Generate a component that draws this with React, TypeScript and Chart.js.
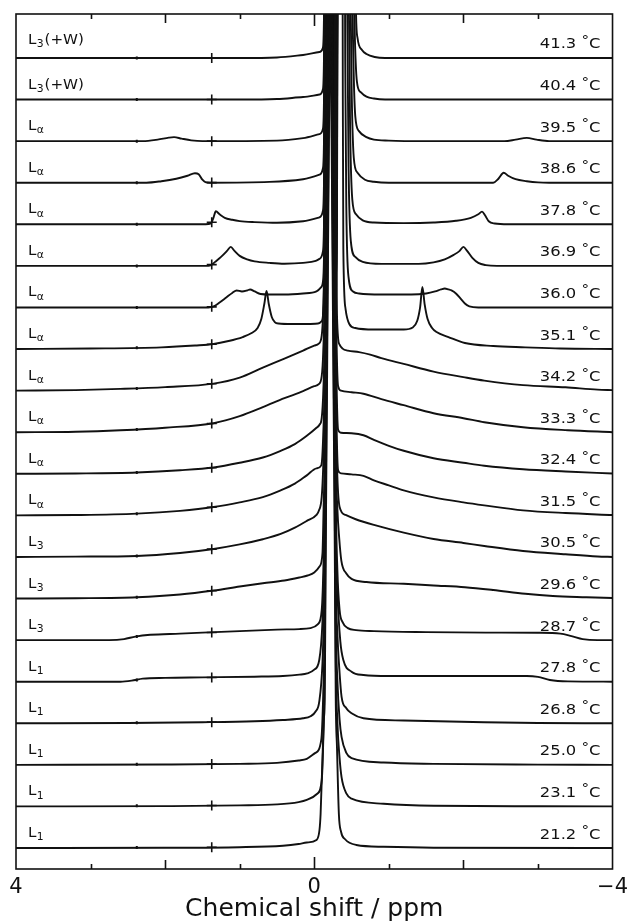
import React, { useEffect, useRef } from 'react';
import { Chart, registerables } from 'chart.js';

Chart.register(...registerables);

// ---------- data (ppm, intensity above the row baseline) ----------
const temperatures = ['41.3', '40.4', '39.5', '38.6', '37.8', '36.9', '36.0', '35.1', '34.2', '33.3', '32.4', '31.5', '30.5', '29.6', '28.7', '27.8', '26.8', '25.0', '23.1', '21.2'];
const phaseSub = ['3', '3', 'α', 'α', 'α', 'α', 'α', 'α', 'α', 'α', 'α', 'α', '3', '3', '3', '1', '1', '1', '1', '1'];
const phaseSuffix = ['(+W)', '(+W)', '', '', '', '', '', '', '', '', '', '', '', '', '', '', '', '', '', ''];

const tickValues = [4, 0, -4];
const tickLabels = ['4', '0', '−4'];

const spikePpm = 1.375;
const dotPpm = 2.38;
const spikeLevels = [0, 0, 0, 0.1, 2, 1.3, 0.6, 4.8, 6.8, 8.7, 6.1, 8.1, 7.8, 7.8, 7.6, 4.2, 1.1, 0.9, 0.9, 0.7];
const dotLevels = [0, 0, 0, 0, 0, 0, 0, 1.2, 2.1, 2.6, 1.3, 1.7, 1, 1.3, 3.5, 1.6, 0.5, 0.6, 0.6, 0.4];

const s413 = [[4, 0], [2, 0], [1, 0], [0.5, 0.5], [0.15, 3], [-0.07, 6], [-0.115, 10], [-0.13, 40], [-0.141, 150], [-0.154, 300], [-0.17, 450], [-0.185, 600], [-0.201, 750], [-0.214, 850], [-0.228, 750], [-0.244, 600], [-0.26, 450], [-0.28, 300], [-0.3, 250], [-0.32, 300], [-0.34, 600], [-0.36, 800], [-0.4, 850], [-0.45, 850], [-0.5, 600], [-0.53, 250], [-0.56, 45], [-0.58, 20], [-0.64, 8], [-0.7, 4], [-0.81, 1], [-0.95, 0], [-2, 0], [-4, 0]];
const s404 = [[4, 0], [2, 0], [1, 0], [0.5, 0.5], [0.15, 2.5], [-0.07, 5], [-0.115, 10], [-0.13, 40], [-0.141, 150], [-0.154, 300], [-0.17, 450], [-0.185, 600], [-0.201, 750], [-0.214, 850], [-0.228, 750], [-0.244, 600], [-0.26, 450], [-0.28, 300], [-0.3, 250], [-0.32, 300], [-0.34, 600], [-0.36, 800], [-0.4, 850], [-0.44, 850], [-0.49, 600], [-0.515, 250], [-0.54, 80], [-0.56, 30], [-0.58, 14], [-0.63, 7], [-0.7, 3], [-0.8, 1], [-0.95, 0], [-4, 0]];
const s395 = [[4, 0], [2.3, 0], [2.1, 1.5], [1.95, 3.5], [1.88, 4], [1.78, 2.5], [1.65, 0.8], [1.5, 0], [0.5, 0.5], [0.15, 3], [-0.07, 7], [-0.115, 12], [-0.13, 40], [-0.141, 150], [-0.154, 300], [-0.17, 450], [-0.185, 600], [-0.201, 750], [-0.214, 850], [-0.228, 750], [-0.244, 600], [-0.259, 450], [-0.27, 300], [-0.276, 100], [-0.29, 30], [-0.304, 100], [-0.31, 300], [-0.325, 450], [-0.34, 600], [-0.355, 750], [-0.37, 850], [-0.43, 850], [-0.47, 600], [-0.495, 250], [-0.52, 100], [-0.55, 25], [-0.6, 10], [-0.7, 4], [-0.8, 1.5], [-1, 0.5], [-1.5, 0], [-2.55, 0], [-2.7, 1.5], [-2.85, 3.3], [-2.98, 1.5], [-3.15, 0], [-4, 0]];
const s386 = [[4, 0], [2.25, 0], [2.05, 1.5], [1.85, 4], [1.7, 7], [1.6, 9.5], [1.55, 8.5], [1.5, 3], [1.46, 0.5], [1.4, 0], [0.6, 0.8], [0.15, 3.5], [-0.07, 8], [-0.115, 14], [-0.13, 40], [-0.141, 150], [-0.154, 300], [-0.17, 450], [-0.185, 600], [-0.201, 750], [-0.214, 850], [-0.228, 750], [-0.244, 600], [-0.259, 450], [-0.27, 300], [-0.276, 100], [-0.29, 30], [-0.304, 100], [-0.31, 300], [-0.325, 450], [-0.34, 600], [-0.355, 750], [-0.37, 850], [-0.42, 850], [-0.455, 600], [-0.478, 250], [-0.5, 100], [-0.53, 25], [-0.58, 10], [-0.68, 3], [-0.8, 1], [-1, 0], [-2.4, 0], [-2.47, 4], [-2.54, 10], [-2.6, 7], [-2.7, 3.5], [-2.85, 1.5], [-3.0, 0.3], [-3.15, 0], [-4, 0]];
const s378 = [[4, 0], [1.5, 0], [1.42, 0.3], [1.38, 1.5], [1.35, 7], [1.32, 13], [1.27, 10], [1.2, 6.5], [1.1, 4.5], [1.0, 3.2], [0.8, 2.2], [0.5, 1.5], [0.15, 3], [-0.07, 7], [-0.115, 13], [-0.13, 40], [-0.141, 150], [-0.154, 300], [-0.17, 450], [-0.185, 600], [-0.201, 750], [-0.214, 850], [-0.228, 750], [-0.244, 600], [-0.259, 450], [-0.27, 300], [-0.276, 100], [-0.29, 30], [-0.304, 100], [-0.31, 300], [-0.325, 450], [-0.34, 600], [-0.355, 750], [-0.37, 850], [-0.41, 850], [-0.44, 600], [-0.46, 250], [-0.48, 100], [-0.51, 25], [-0.56, 10], [-0.65, 4], [-0.8, 1.8], [-1.2, 1.2], [-1.6, 1.8], [-1.9, 3.5], [-2.1, 6.5], [-2.2, 10], [-2.25, 12.7], [-2.29, 9], [-2.34, 3], [-2.42, 0.8], [-2.6, 0], [-4, 0]];
const s369 = [[4, 0], [1.42, 0], [1.38, 1], [1.33, 4], [1.25, 9], [1.17, 15], [1.12, 19], [1.07, 15], [1.0, 10], [0.9, 6.5], [0.8, 4.5], [0.6, 3], [0.4, 2.2], [0.15, 3], [-0.02, 5], [-0.07, 7], [-0.115, 14], [-0.13, 40], [-0.141, 150], [-0.154, 300], [-0.17, 450], [-0.185, 600], [-0.201, 750], [-0.214, 850], [-0.228, 750], [-0.244, 600], [-0.259, 450], [-0.27, 300], [-0.276, 100], [-0.29, 30], [-0.304, 100], [-0.31, 300], [-0.325, 450], [-0.34, 600], [-0.355, 750], [-0.37, 850], [-0.4, 850], [-0.425, 600], [-0.443, 250], [-0.46, 100], [-0.49, 25], [-0.55, 9], [-0.65, 4], [-0.9, 2], [-1.4, 2], [-1.6, 3.5], [-1.75, 6.5], [-1.87, 11], [-1.95, 15], [-2.0, 19], [-2.05, 15], [-2.12, 8], [-2.2, 3], [-2.3, 0.8], [-2.45, 0], [-4, 0]];
const s360 = [[4, 0], [1.42, 0], [1.35, 1], [1.27, 5], [1.18, 10], [1.1, 14.5], [1.04, 17], [0.97, 16], [0.9, 17], [0.86, 18], [0.8, 16], [0.72, 13.5], [0.6, 13], [0.4, 13], [0.15, 14], [-0.03, 16], [-0.09, 20], [-0.12, 28], [-0.132, 60], [-0.141, 150], [-0.154, 300], [-0.17, 450], [-0.185, 600], [-0.201, 750], [-0.214, 850], [-0.228, 750], [-0.244, 600], [-0.259, 450], [-0.27, 300], [-0.276, 100], [-0.29, 35], [-0.304, 100], [-0.31, 300], [-0.325, 450], [-0.34, 600], [-0.355, 750], [-0.37, 850], [-0.385, 850], [-0.4, 600], [-0.415, 250], [-0.43, 100], [-0.46, 30], [-0.52, 16], [-0.6, 14], [-0.9, 13], [-1.3, 13], [-1.5, 14], [-1.62, 16], [-1.7, 18], [-1.75, 19], [-1.8, 18], [-1.84, 17], [-1.9, 14], [-1.96, 9], [-2.02, 4], [-2.08, 1], [-2.2, 0], [-4, 0]];
const s351 = [[4, 0], [3, 0.5], [2.05, 1.7], [1.6, 3.5], [1.35, 5], [1.15, 8], [0.96, 12], [0.84, 16], [0.76, 21], [0.71, 30], [0.67, 45], [0.64, 58], [0.61, 45], [0.57, 32], [0.53, 27], [0.48, 25.5], [0.3, 25], [0.1, 25], [-0.05, 25.5], [-0.1, 28], [-0.125, 45], [-0.141, 150], [-0.154, 300], [-0.17, 450], [-0.185, 600], [-0.201, 750], [-0.214, 850], [-0.228, 750], [-0.244, 600], [-0.259, 450], [-0.27, 300], [-0.276, 100], [-0.29, 35], [-0.304, 100], [-0.31, 300], [-0.325, 450], [-0.34, 600], [-0.355, 750], [-0.365, 800], [-0.375, 600], [-0.383, 250], [-0.39, 100], [-0.42, 40], [-0.47, 25], [-0.55, 21], [-0.8, 19.5], [-1.2, 19.5], [-1.32, 21.5], [-1.38, 28], [-1.42, 42], [-1.45, 62], [-1.48, 45], [-1.52, 30], [-1.58, 21], [-1.64, 17], [-1.8, 12], [-2.02, 6], [-2.4, 3], [-2.83, 1.7], [-3.3, 0.5], [-4, 0]];
const s342 = [[4, 0], [3.2, 0.5], [2.6, 1.7], [2.0, 3.5], [1.35, 7], [1.0, 13], [0.69, 23], [0.4, 32], [0.15, 40], [0.0, 45], [-0.06, 47], [-0.1, 55], [-0.12, 80], [-0.141, 150], [-0.154, 300], [-0.17, 450], [-0.185, 600], [-0.201, 750], [-0.214, 850], [-0.228, 750], [-0.244, 600], [-0.259, 450], [-0.275, 300], [-0.288, 150], [-0.305, 75], [-0.32, 52], [-0.34, 46], [-0.38, 42], [-0.45, 40], [-0.6, 38.5], [-0.75, 36], [-0.9, 32.5], [-1.2, 26.7], [-1.6, 19], [-2.0, 13.5], [-2.28, 10], [-2.8, 5.5], [-3.37, 3.3], [-3.8, 1], [-4, 0.5]];
const s333 = [[4, 0], [3.2, 0.5], [2.6, 2], [2.0, 4.5], [1.35, 9], [1.0, 16], [0.69, 25], [0.4, 34], [0.15, 41], [0.0, 46], [-0.06, 48], [-0.1, 56], [-0.12, 80], [-0.141, 150], [-0.154, 300], [-0.17, 450], [-0.185, 600], [-0.201, 750], [-0.214, 850], [-0.228, 750], [-0.244, 600], [-0.259, 450], [-0.275, 300], [-0.288, 150], [-0.305, 70], [-0.32, 46], [-0.36, 41.5], [-0.5, 40], [-0.66, 38.5], [-0.9, 33], [-1.2, 27], [-1.6, 19], [-2.0, 14], [-2.28, 10], [-2.8, 5], [-3.4, 2], [-4, 0]];
const s324 = [[4, 0], [3.2, 0.3], [2.38, 1.3], [1.8, 3.5], [1.35, 6.3], [1.0, 11], [0.69, 16.3], [0.45, 23], [0.26, 29.7], [0.1, 38], [-0.03, 46], [-0.07, 49], [-0.1, 56], [-0.12, 80], [-0.141, 150], [-0.154, 300], [-0.17, 450], [-0.185, 600], [-0.201, 750], [-0.214, 850], [-0.228, 750], [-0.244, 600], [-0.259, 450], [-0.275, 300], [-0.288, 150], [-0.305, 70], [-0.32, 44], [-0.36, 41], [-0.5, 40.5], [-0.66, 38.5], [-0.8, 34], [-1.0, 28], [-1.2, 23], [-1.6, 15.5], [-2.0, 11], [-2.28, 8], [-2.8, 4.5], [-3.37, 2.3], [-4, 0.3]];
const s315 = [[4, 0], [3.2, 0.3], [2.38, 1.7], [1.8, 4.5], [1.35, 8.3], [1.0, 13], [0.69, 18.3], [0.45, 25], [0.26, 31.7], [0.1, 40], [-0.03, 47], [-0.094, 50], [-0.12, 80], [-0.141, 150], [-0.154, 300], [-0.17, 450], [-0.185, 600], [-0.201, 750], [-0.214, 850], [-0.228, 750], [-0.244, 600], [-0.259, 450], [-0.275, 300], [-0.288, 150], [-0.305, 70], [-0.32, 45], [-0.36, 42], [-0.5, 41], [-0.66, 39.5], [-0.8, 35], [-1.0, 30], [-1.2, 25], [-1.6, 18], [-2.0, 13], [-2.28, 10], [-2.8, 5], [-3.37, 2.3], [-4, 0.3]];
const s305 = [[4, 0], [3.2, 0.3], [2.38, 1], [1.8, 4], [1.35, 8], [1.0, 12.5], [0.69, 17.7], [0.45, 23], [0.26, 29.3], [0.1, 36], [-0.03, 42], [-0.06, 46], [-0.1, 60], [-0.12, 90], [-0.141, 150], [-0.154, 300], [-0.17, 450], [-0.185, 600], [-0.201, 750], [-0.214, 850], [-0.228, 750], [-0.244, 600], [-0.259, 450], [-0.275, 300], [-0.288, 150], [-0.31, 80], [-0.34, 50], [-0.42, 42], [-0.556, 37.7], [-0.8, 32], [-1.2, 24.3], [-1.6, 18], [-2.0, 14], [-2.28, 11], [-2.8, 6], [-3.37, 2.7], [-3.8, 0.5], [-4, 0]];
const s296 = [[4, 0], [3.2, 0.3], [2.38, 1.3], [1.8, 4], [1.35, 8], [1.0, 12], [0.69, 15.3], [0.4, 18], [0.2, 21], [0.09, 23], [0.0, 26], [-0.07, 32], [-0.11, 45], [-0.125, 90], [-0.141, 150], [-0.154, 300], [-0.17, 450], [-0.185, 600], [-0.201, 750], [-0.214, 850], [-0.228, 750], [-0.244, 600], [-0.259, 450], [-0.275, 300], [-0.288, 150], [-0.31, 90], [-0.335, 60], [-0.363, 38], [-0.43, 25], [-0.5, 19.7], [-0.7, 16.5], [-1.2, 14.7], [-1.6, 13], [-2.02, 11.3], [-2.4, 8.5], [-2.83, 4.7], [-3.2, 2.5], [-3.65, 1.3], [-4, 0.5]];
const s287 = [[4, 0], [2.75, 0], [2.55, 1], [2.4, 3.5], [2.2, 5.3], [1.8, 6.5], [1.5, 7.5], [1.0, 9], [0.5, 10.5], [0.2, 11], [0.05, 12], [-0.05, 16], [-0.1, 30], [-0.125, 80], [-0.141, 150], [-0.154, 300], [-0.17, 450], [-0.185, 600], [-0.201, 750], [-0.214, 850], [-0.228, 750], [-0.244, 600], [-0.259, 450], [-0.275, 300], [-0.288, 150], [-0.31, 70], [-0.34, 30], [-0.38, 18], [-0.45, 12], [-0.56, 10], [-0.8, 9], [-1.5, 8], [-2.3, 7.5], [-3.0, 7.3], [-3.3, 6.5], [-3.45, 4], [-3.6, 1], [-3.8, 0], [-4, 0]];
const s278 = [[4, 0], [2.6, 0], [2.45, 1], [2.3, 3], [2.0, 3.8], [1.5, 4.3], [0.8, 5], [0.42, 5.7], [0.2, 7], [0.094, 8.3], [0.0, 12], [-0.067, 21.7], [-0.11, 60], [-0.13, 110], [-0.141, 150], [-0.154, 300], [-0.17, 450], [-0.185, 600], [-0.201, 750], [-0.214, 850], [-0.228, 750], [-0.244, 600], [-0.259, 450], [-0.275, 300], [-0.288, 150], [-0.31, 90], [-0.35, 40], [-0.39, 21.7], [-0.5, 10], [-0.66, 6.7], [-1.0, 5.7], [-2.0, 5.7], [-2.85, 5.7], [-3.0, 4.8], [-3.16, 1.7], [-3.4, 0.3], [-4, 0]];
const s268 = [[4, 0], [2.5, 0.3], [1.5, 1], [0.8, 2], [0.42, 3.3], [0.15, 5], [0.05, 7], [-0.02, 12], [-0.067, 21.7], [-0.11, 60], [-0.13, 110], [-0.141, 150], [-0.154, 300], [-0.17, 450], [-0.185, 600], [-0.201, 750], [-0.214, 850], [-0.228, 750], [-0.244, 600], [-0.259, 450], [-0.275, 300], [-0.288, 150], [-0.31, 90], [-0.34, 50], [-0.366, 26.7], [-0.43, 15], [-0.5, 10], [-0.66, 5], [-1.2, 2.7], [-2.28, 1], [-3, 0.3], [-4, 0]];
const s250 = [[4, 0], [2, 0.3], [1, 1], [0.5, 2], [0.21, 4.3], [0.1, 6], [-0.01, 11.7], [-0.094, 25], [-0.12, 70], [-0.141, 150], [-0.154, 300], [-0.17, 450], [-0.185, 600], [-0.201, 750], [-0.214, 850], [-0.228, 750], [-0.244, 600], [-0.259, 450], [-0.275, 300], [-0.288, 150], [-0.31, 85], [-0.34, 45], [-0.366, 28], [-0.43, 12], [-0.5, 6.7], [-0.93, 2.3], [-1.6, 1], [-3, 0.2], [-4, 0]];
const s231 = [[4, 0], [2, 0.3], [1, 1], [0.5, 2], [0.21, 4.3], [0.1, 6.5], [-0.04, 12.7], [-0.1, 26], [-0.122, 70], [-0.141, 150], [-0.154, 300], [-0.17, 450], [-0.185, 600], [-0.201, 750], [-0.214, 850], [-0.228, 750], [-0.244, 600], [-0.259, 450], [-0.275, 300], [-0.288, 150], [-0.31, 85], [-0.34, 48], [-0.366, 29.3], [-0.43, 13], [-0.5, 7.7], [-0.93, 2.7], [-1.6, 0.7], [-3, 0.2], [-4, 0]];
const s212 = [[4, 0], [2, 0.2], [1, 0.8], [0.42, 2.3], [0.21, 4], [0.1, 5.5], [-0.03, 8], [-0.07, 18], [-0.085, 34], [-0.11, 90], [-0.13, 130], [-0.141, 150], [-0.154, 300], [-0.17, 450], [-0.185, 600], [-0.201, 750], [-0.214, 850], [-0.228, 750], [-0.244, 600], [-0.259, 450], [-0.275, 300], [-0.288, 150], [-0.305, 100], [-0.33, 34], [-0.36, 16], [-0.41, 9], [-0.565, 3], [-0.93, 1.2], [-1.6, 0.3], [-4, 0]];

const spectra = [s413, s404, s395, s386, s378, s369, s360, s351, s342, s333, s324, s315, s305, s296, s287, s278, s268, s250, s231, s212];

// ---------- layout ----------
const W = 634;
const H = 924;
const Y_MAX = 855;
const ROW_BOTTOM = 21;
const ROW_GAP = 41.58;
const FONT = '"DejaVu Sans", "Liberation Sans", sans-serif';
const INK = '#111';

const rowOffset = (i: number) => ROW_BOTTOM + ROW_GAP * (spectra.length - 1 - i);

// draw a run of text pieces horizontally stretched by sx
function drawRun(ctx: CanvasRenderingContext2D, pieces: { t: string; size: number; dy: number; gap?: number }[], x: number, y: number, sx: number, alignRight: boolean) {
  let total = 0;
  const widths = pieces.map((p) => {
    ctx.font = `${p.size}px ${FONT}`;
    const w = ctx.measureText(p.t).width + (p.gap || 0);
    total += w;
    return w;
  });
  ctx.save();
  ctx.translate(alignRight ? x - total * sx : x, y);
  ctx.scale(sx, 1);
  let cx = 0;
  pieces.forEach((p, k) => {
    ctx.font = `${p.size}px ${FONT}`;
    ctx.fillText(p.t, cx, p.dy);
    cx += widths[k];
  });
  ctx.restore();
}

const framePlugin = {
  id: 'frameAndLabels',
  afterDatasetsDraw(chart: any) {
    const { ctx, chartArea, scales } = chart;
    const xs = scales.x;
    const ys = scales.y;
    ctx.save();
    ctx.strokeStyle = INK;
    ctx.lineWidth = 1.6;
    ctx.strokeRect(chartArea.left, chartArea.top, chartArea.right - chartArea.left, chartArea.bottom - chartArea.top);
    for (let v = -3; v <= 3; v++) {
      const px = Math.round(xs.getPixelForValue(v)) + 0.5;
      const len = v === 0 ? 12 : v % 2 === 0 ? 9 : 5;
      ctx.beginPath();
      ctx.moveTo(px, chartArea.bottom);
      ctx.lineTo(px, chartArea.bottom - len);
      ctx.moveTo(px, chartArea.top);
      ctx.lineTo(px, chartArea.top + len);
      ctx.stroke();
    }
    ctx.fillStyle = INK;
    ctx.textAlign = 'left';
    ctx.textBaseline = 'alphabetic';
    temperatures.forEach((t, i) => {
      const yb = ys.getPixelForValue(rowOffset(i));
      const ly = yb - (i === 0 ? 14 : 11);
      const left = [{ t: 'L', size: 14, dy: 0, gap: 0.3 }, { t: phaseSub[i], size: 10, dy: 3.2, gap: 0.8 }];
      if (phaseSuffix[i]) left.push({ t: phaseSuffix[i], size: 14, dy: 0, gap: 0 });
      drawRun(ctx, left, chartArea.left + 12, ly, 1.08, false);
      const ry = yb - 9.5;
      drawRun(
        ctx,
        [
          { t: t + ' ', size: 14, dy: 0, gap: 0 },
          { t: '°', size: 13, dy: -4.5, gap: 0 },
          { t: 'C', size: 14, dy: 0, gap: 0 },
        ],
        chartArea.right - 12,
        ry,
        1.17,
        true
      );
    });
    ctx.restore();
  },
};

export default function App() {
  const ref = useRef<HTMLCanvasElement | null>(null);

  useEffect(() => {
    if (!ref.current) return;
    const lineSets = spectra.map((s, i) => ({
      type: 'line' as const,
      data: s.map(([p, v]) => ({ x: p, y: rowOffset(i) + v })),
      borderColor: INK,
      borderWidth: 1.9,
      pointRadius: 0,
      fill: false,
      cubicInterpolationMode: 'monotone' as const,
      borderJoinStyle: 'round' as const,
    }));
    const spikeSet = {
      type: 'scatter' as const,
      data: spikeLevels.map((v, i) => ({ x: spikePpm, y: rowOffset(i) + v })),
      pointStyle: 'cross' as const,
      pointRadius: 5,
      borderColor: INK,
      backgroundColor: INK,
      borderWidth: 1.6,
    };
    const dotSet = {
      type: 'scatter' as const,
      data: dotLevels.map((v, i) => ({ x: dotPpm, y: rowOffset(i) + v })),
      pointStyle: 'line' as const,
      rotation: 90,
      pointRadius: 1.5,
      borderColor: INK,
      backgroundColor: INK,
      borderWidth: 2,
    };
    const chart = new Chart(ref.current, {
      type: 'line',
      data: { datasets: [...lineSets, spikeSet, dotSet] as any },
      options: {
        animation: false,
        responsive: false,
        devicePixelRatio: 1,
        events: [],
        layout: { padding: { left: 16, right: 21, top: 14, bottom: 0 } },
        plugins: { legend: { display: false }, tooltip: { enabled: false } },
        scales: {
          x: {
            type: 'linear',
            min: -4,
            max: 4,
            reverse: true,
            grid: { display: false, drawTicks: false },
            border: { display: false },
            ticks: {
              stepSize: 1,
              autoSkip: false,
              maxRotation: 0,
              padding: 6,
              color: INK,
              font: { family: FONT, size: 21 },
              callback: (v: any) => {
                const k = tickValues.indexOf(Number(v));
                return k >= 0 ? tickLabels[k] : '';
              },
            },
            title: {
              display: true,
              text: 'Chemical shift / ppm',
              color: INK,
              font: { family: FONT, size: 25 },
              padding: { top: 0, bottom: 0 },
            },
            afterFit: (s: any) => {
              s.height = 55;
            },
          },
          y: { type: 'linear', min: 0, max: Y_MAX, display: false },
        },
      } as any,
      plugins: [framePlugin],
    });
    return () => chart.destroy();
  }, []);

  return (
    <div style={{ position: 'absolute', left: 0, top: 0, width: W, height: H, background: '#fff' }}>
      <canvas ref={ref} width={W} height={H} style={{ display: 'block', width: W, height: H }} />
    </div>
  );
}
